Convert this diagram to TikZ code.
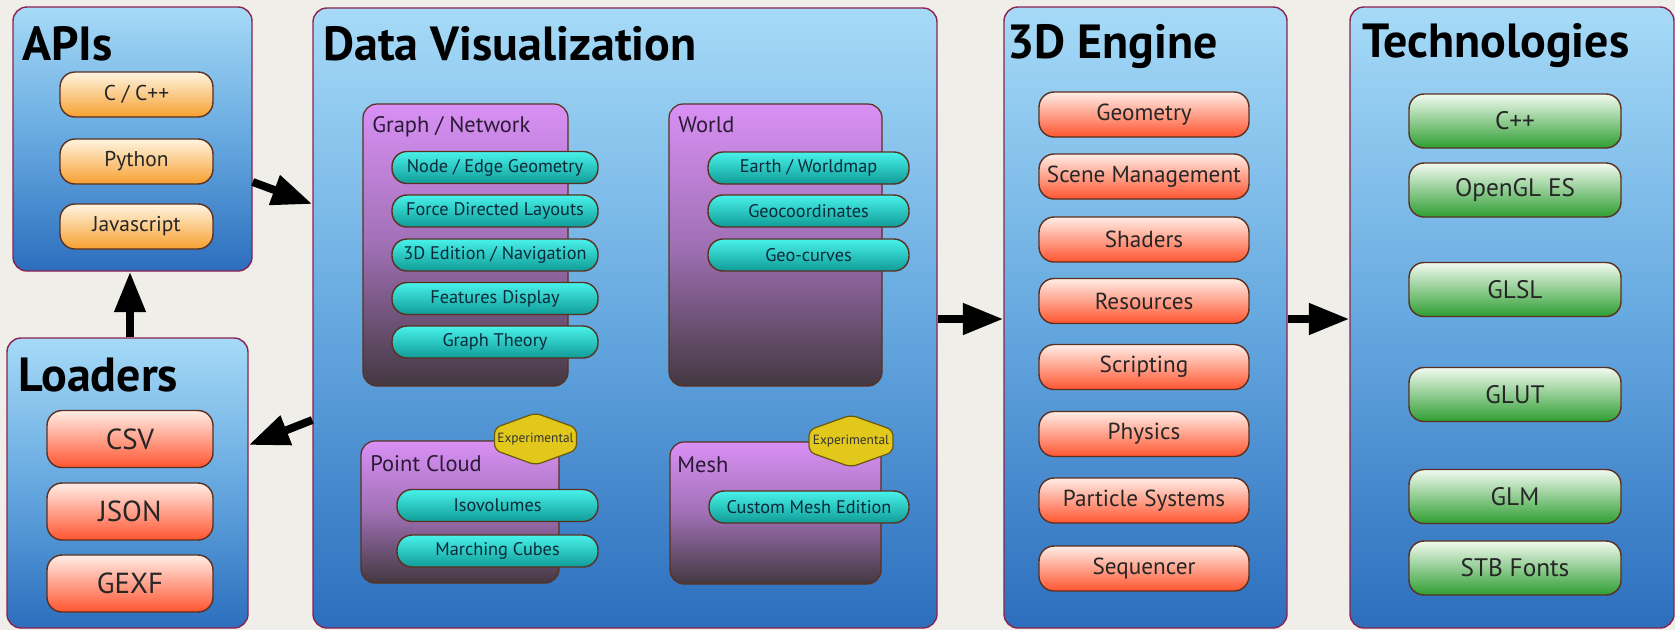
\documentclass[tikz,border=0pt]{standalone}
\usepackage{fontspec}
\setmainfont{PT Sans}
\usetikzlibrary{arrows.meta,fit}

\definecolor{bgbeige}{HTML}{F0EEE8}
\definecolor{panelrim}{HTML}{8A2350}
\definecolor{paneltop}{HTML}{A6DAF7}
\definecolor{panelmid}{HTML}{66A9E0}
\definecolor{panelbot}{HTML}{2C6EBD}
\definecolor{btnrim}{HTML}{5A3020}
\definecolor{orgtop}{HTML}{FFF4E0}
\definecolor{orgbot}{HTML}{F7A030}
\definecolor{redtop}{HTML}{FFEDE6}
\definecolor{redbot}{HTML}{FF5530}
\definecolor{grntop}{HTML}{F2FAF0}
\definecolor{grnbot}{HTML}{2E9E32}
\definecolor{tealtop}{HTML}{48F2EA}
\definecolor{tealbot}{HTML}{109C98}
\definecolor{violtop}{HTML}{D990F5}
\definecolor{violmid}{HTML}{A070B5}
\definecolor{violbot}{HTML}{433840}
\definecolor{badgefill}{HTML}{E2C81A}
\definecolor{badgerim}{HTML}{6A5A10}
\definecolor{labelink}{HTML}{2A1A35}
\definecolor{tealink}{HTML}{0A2A3A}

\tikzset{
  panel/.style={rounded corners=0.28cm, draw=panelrim, line width=0.8pt,
    top color=paneltop, bottom color=panelbot, middle color=panelmid, inner sep=0pt},
  subpanel/.style={rounded corners=0.28cm, draw=btnrim, line width=0.7pt,
    top color=violtop, bottom color=violbot, middle color=violmid, inner sep=0pt},
  title/.style={anchor=base west, inner sep=0pt, font=\fontsize{27.3}{30}\selectfont\bfseries},
  sublabel/.style={anchor=base west, inner sep=0pt, text=labelink, font=\fontsize{12.8}{14}\selectfont},
  btn/.style={rounded corners=0.3cm, draw=btnrim, line width=0.8pt, inner sep=0pt, text=black!85},
  apibtn/.style={btn, top color=orgtop, bottom color=orgbot, minimum width=3.06cm,
    minimum height=0.9cm, font=\fontsize{12.2}{14}\selectfont},
  loadbtn/.style={btn, top color=redtop, bottom color=redbot, minimum width=3.32cm,
    minimum height=1.14cm, font=\fontsize{16.5}{18}\selectfont},
  enginebtn/.style={btn, top color=redtop, bottom color=redbot, minimum width=4.2cm,
    minimum height=0.9cm, font=\fontsize{13.2}{15}\selectfont},
  techbtn/.style={btn, top color=grntop, bottom color=grnbot, minimum width=4.24cm,
    minimum height=1.08cm, font=\fontsize{14.4}{16}\selectfont},
  featbtn/.style={btn, rounded corners=0.3cm, top color=tealtop, bottom color=tealbot,
    minimum height=0.64cm, text=tealink, font=\fontsize{10.4}{12}\selectfont},
  badge/.style={rounded corners=0.12cm, fill=badgefill, draw=badgerim, line width=0.7pt},
  badgetext/.style={inner sep=0pt, text=black!80, font=\fontsize{7.6}{8}\selectfont},
  bigarrow/.style={line width=4.5pt, -{Triangle[length=23pt,width=17pt]}}
}

\begin{document}
\begin{tikzpicture}[x=0.02cm,y=-0.02cm]
\fill[bgbeige] (0,0) rectangle (1675,630);
\useasboundingbox (0,0) rectangle (1675,630);

% panels
\node[panel, fit={(13,7) (252,271)}] (apis) {};
\node[panel, fit={(7,338) (248,628)}] (loaders) {};
\node[panel, fit={(313,8) (937,628)}] (dataviz) {};
\node[panel, fit={(1004,7) (1287,628)}] (engine) {};
\node[panel, fit={(1350,7) (1674,628)}] (tech) {};

\node[title] (apistitle) at (22,60) {APIs};
\node[title] (loaderstitle) at (18,391) {Loaders};
\node[title] (datavistitle) at (323,60) {Data Visualization};
\node[title] (enginetitle) at (1007,58) {3D Engine};
\node[title] (techtitle) at (1362,57) {Technologies};

% APIs
\node[apibtn] (capi) at (136.5,94.5) {C / C++};
\node[apibtn] (pyapi) at (136.5,161.5) {Python};
\node[apibtn] (jsapi) at (136.5,226.5) {Javascript};

% Loaders
\node[loadbtn] (csv) at (130,439) {CSV};
\node[loadbtn] (json) at (130,511.5) {JSON};
\node[loadbtn] (gexf) at (130,583.5) {GEXF};

% Data Visualization
\node[subpanel, fit={(363,104) (568,386)}] (graph) {};
\node[subpanel, fit={(669,104) (882,386)}] (world) {};
\node[subpanel, fit={(361,441) (559,583)}] (cloud) {};
\node[subpanel, fit={(670,442) (881,584)}] (mesh) {};

\node[sublabel] (graphlbl) at (372,132) {Graph / Network};
\node[sublabel] (worldlbl) at (678,132) {World};
\node[sublabel] (cloudlbl) at (370,471) {Point Cloud};
\node[sublabel] (meshlbl) at (677,472) {Mesh};

\node[featbtn, minimum width=4.12cm] (nodeedge) at (495,167.5) {Node / Edge Geometry};
\node[featbtn, minimum width=4.12cm] (forcelay) at (495,211) {Force Directed Layouts};
\node[featbtn, minimum width=4.12cm] (edition) at (495,255) {3D Edition / Navigation};
\node[featbtn, minimum width=4.12cm] (features) at (495,298.5) {Features Display};
\node[featbtn, minimum width=4.12cm] (theory) at (495,342) {Graph Theory};

\node[featbtn, minimum width=4.02cm] (earth) at (808.5,168) {Earth / Worldmap};
\node[featbtn, minimum width=4.02cm] (geocoord) at (808.5,211) {Geocoordinates};
\node[featbtn, minimum width=4.02cm] (geocurve) at (808.5,255) {Geo-curves};

\node[featbtn, minimum width=4.02cm] (isovol) at (497.5,505.5) {Isovolumes};
\node[featbtn, minimum width=4.02cm] (cubes) at (497.5,551) {Marching Cubes};

\node[featbtn, minimum width=4.0cm] (meshedit) at (809,507) {Custom Mesh Edition};

\coordinate (cloudbadge) at (535.5,439);
\coordinate (meshbadge) at (851,441);
\filldraw[badge] ([shift={(-41,-11)}]cloudbadge) -- ++(41,-15) -- ++(41,15) -- ++(0,22)
  -- ++(-41,15) -- ++(-41,-15) -- cycle;
\filldraw[badge] ([shift={(-42,-11)}]meshbadge) -- ++(42,-15) -- ++(42,15) -- ++(0,22)
  -- ++(-42,15) -- ++(-42,-15) -- cycle;
\node[badgetext] (cloudexp) at (cloudbadge) {Experimental};
\node[badgetext] (meshexp) at (meshbadge) {Experimental};

% 3D Engine
\node[enginebtn] (geometry) at (1144,114.5) {Geometry};
\node[enginebtn] (scene) at (1144,176.5) {Scene Management};
\node[enginebtn] (shaders) at (1144,239.5) {Shaders};
\node[enginebtn] (resources) at (1144,301) {Resources};
\node[enginebtn] (scripting) at (1144,367) {Scripting};
\node[enginebtn] (physics) at (1144,434) {Physics};
\node[enginebtn] (particles) at (1144,500.5) {Particle Systems};
\node[enginebtn] (sequencer) at (1144,568.5) {Sequencer};

% Technologies
\node[techbtn] (cxx) at (1515,121) {C++};
\node[techbtn] (gles) at (1515,190) {OpenGL ES};
\node[techbtn] (glsl) at (1515,289.5) {GLSL};
\node[techbtn] (glut) at (1515,394.5) {GLUT};
\node[techbtn] (glm) at (1515,496.5) {GLM};
\node[techbtn] (stb) at (1515,568) {STB Fonts};

% arrows
\draw[bigarrow] (loaders.north -| 130,0) -- (apis.south -| 130,0);
\draw[bigarrow] (apis.east |- 0,182) -- (dataviz.west |- 0,204);
\draw[bigarrow] (dataviz.west |- 0,420) -- (loaders.east |- 0,445);
\draw[bigarrow] (dataviz.east |- 0,319) -- (engine.west |- 0,319);
\draw[bigarrow] (engine.east |- 0,319) -- (tech.west |- 0,319);
\end{tikzpicture}
\end{document}
